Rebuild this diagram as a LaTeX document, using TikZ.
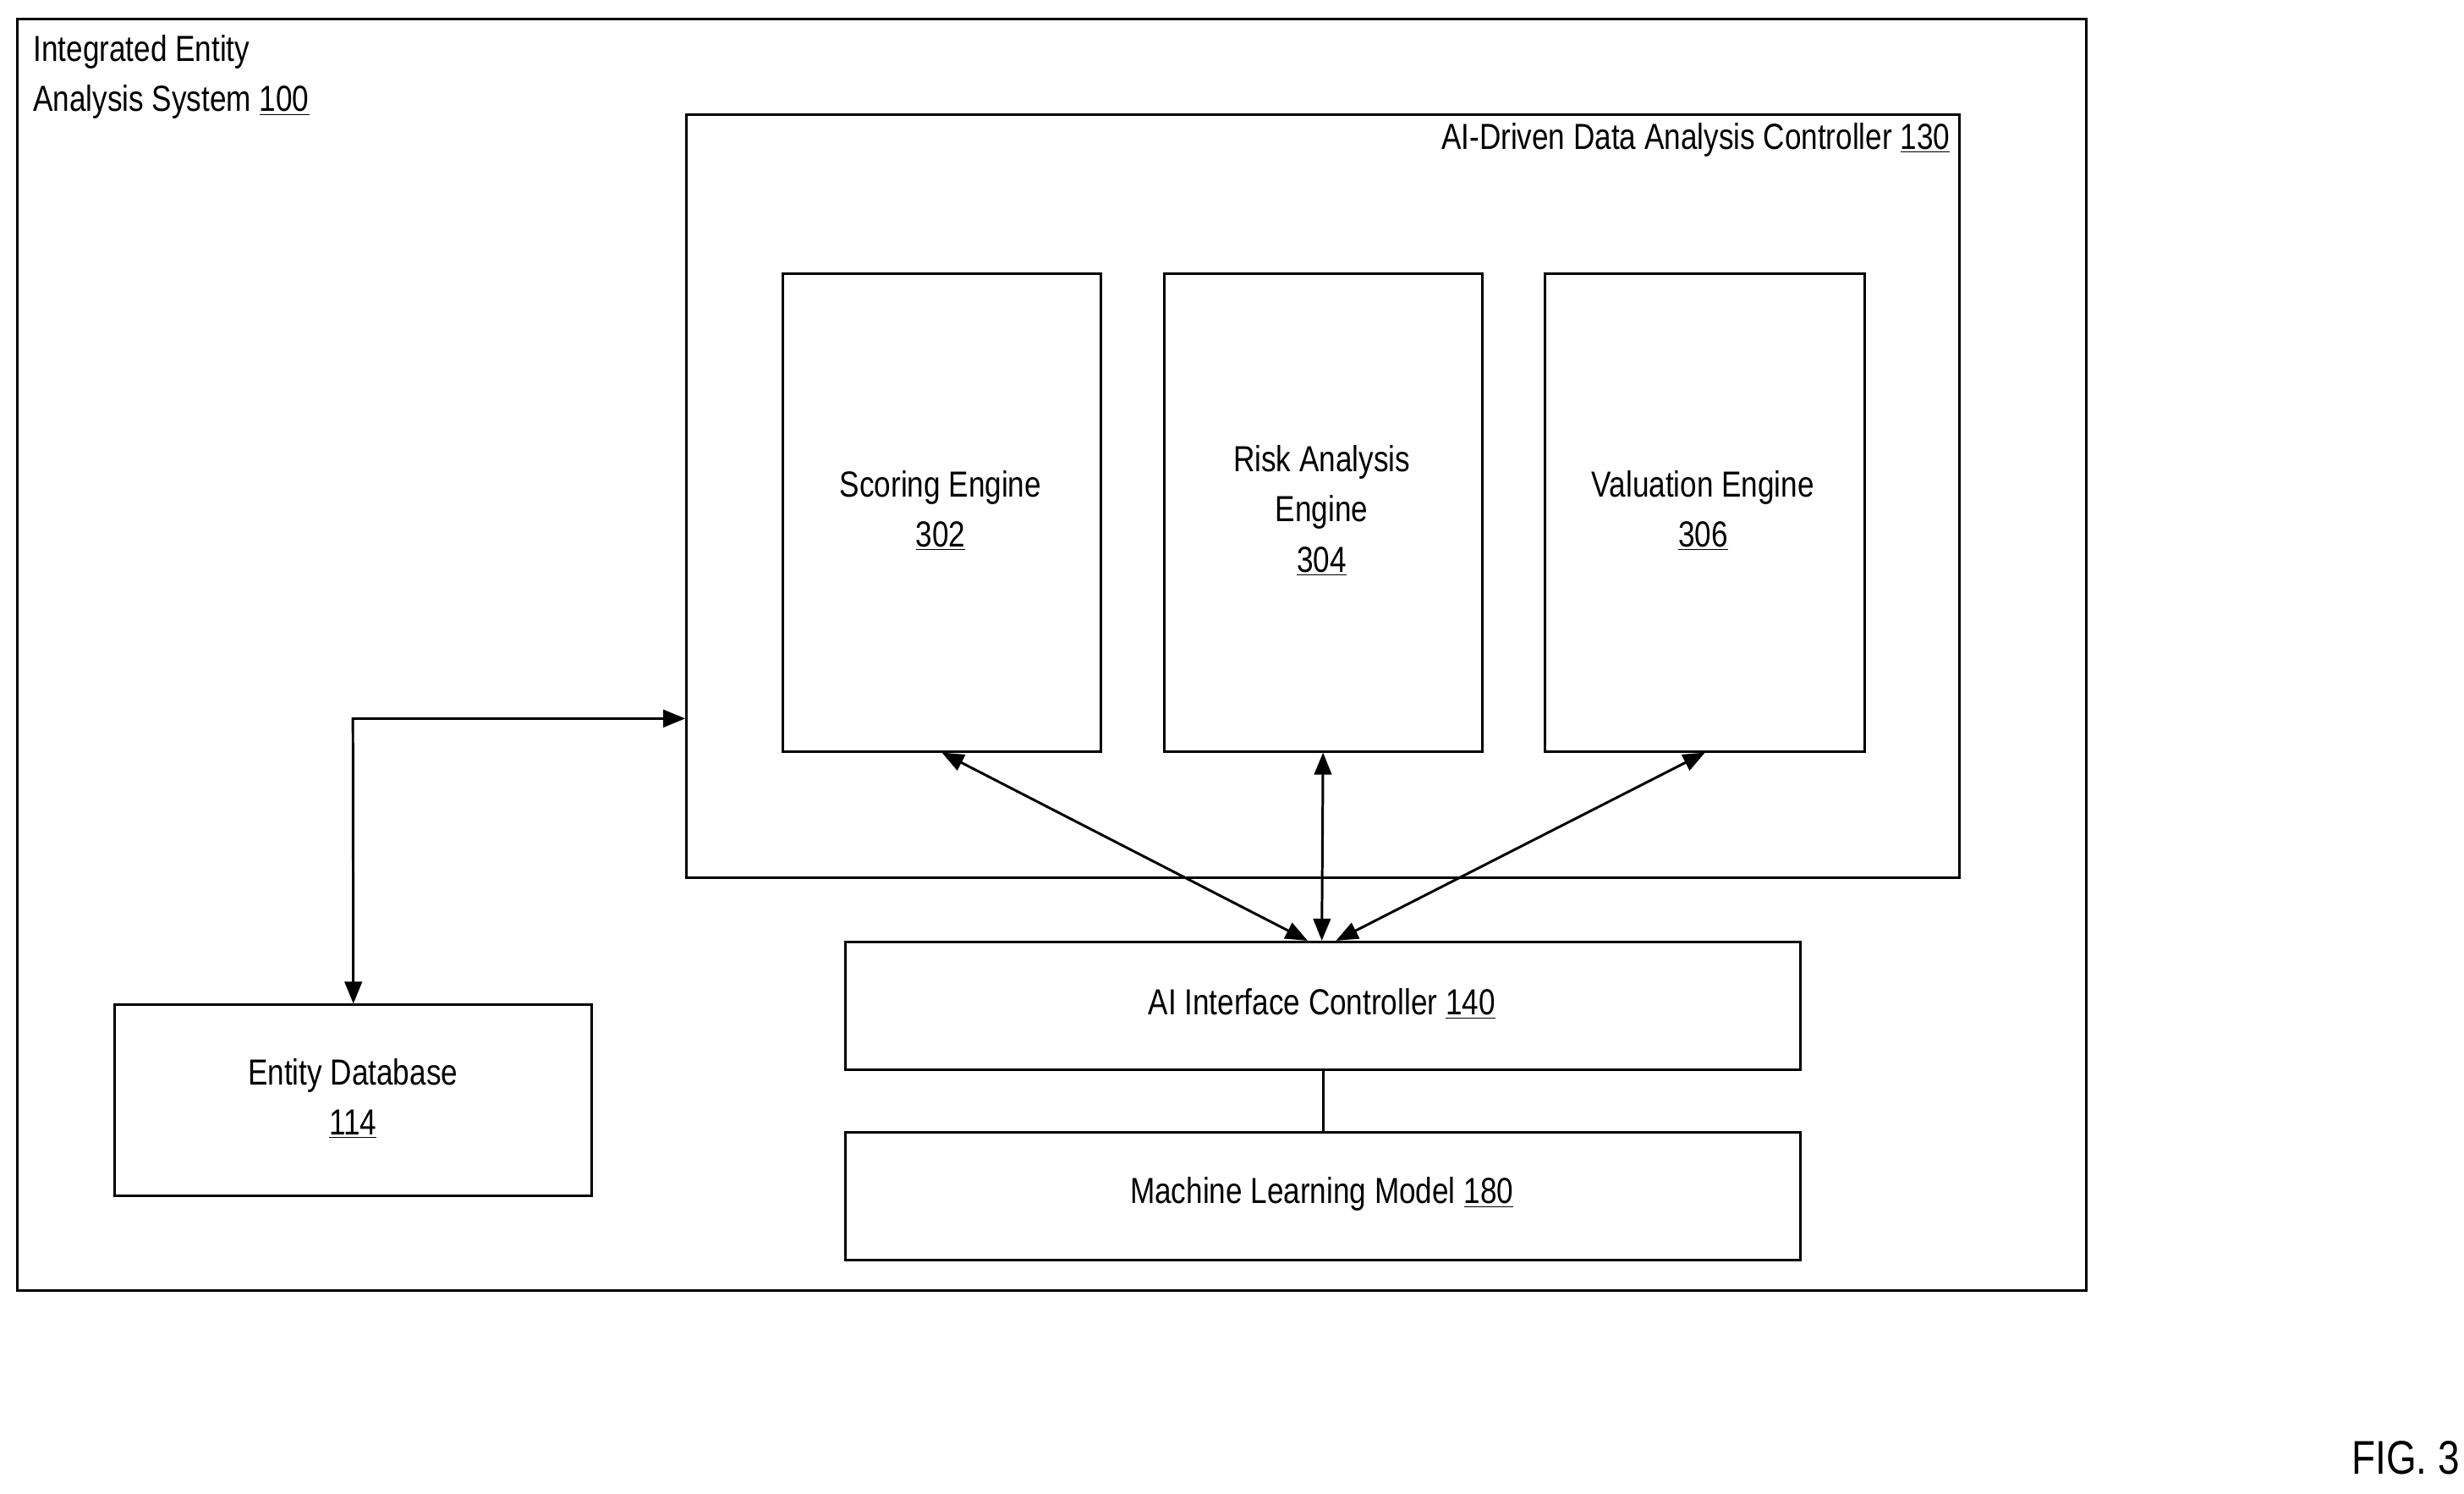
\documentclass[tikz,border=0pt]{standalone}
\usepackage{fontspec}
\setmainfont{Liberation Sans}[FakeStretch=0.82]
\usetikzlibrary{arrows.meta}
\begin{document}
\begin{tikzpicture}[x=1pt,y=-1pt,
  box/.style={draw,line width=1.6pt},
  lbl/.style={font=\fontsize{23}{32}\selectfont,align=center},
  conn/.style={line width=1.6pt,{Triangle[length=14pt,width=11pt]}-{Triangle[length=14pt,width=11pt]}}]
\useasboundingbox[fill=white] (0,0) rectangle (1564,948);
\draw[box] (11,12) rectangle (1324,819);
\node[lbl,anchor=north west,align=left,inner sep=0] (t100) at (21,22) {Integrated Entity\\Analysis System \underline{100}};
\node[box,minimum width=808,minimum height=484,anchor=north west,inner sep=0] (c130) at (435,72) {};
\node[lbl,anchor=north east,inner sep=0] (t130) at (1238,78) {AI-Driven Data Analysis Controller \underline{130}};
\node[box,lbl,minimum width=202,minimum height=303,anchor=north west,inner sep=0] (s302) at (496,173) {};
\node[lbl] at (597,324) {Scoring Engine\\\underline{302}};
\node[box,lbl,minimum width=202,minimum height=303,anchor=north west,inner sep=0] (r304) at (738,173) {};
\node[lbl] at (839,324) {Risk Analysis\\Engine\\\underline{304}};
\node[box,lbl,minimum width=203,minimum height=303,anchor=north west,inner sep=0] (v306) at (980,173) {};
\node[lbl] at (1081,324) {Valuation Engine\\\underline{306}};
\node[box,lbl,minimum width=606,minimum height=81,anchor=north west,inner sep=0] (ai140) at (536,597) {};
\node[lbl] at (839,637) {AI Interface Controller \underline{140}};
\node[box,lbl,minimum width=606,minimum height=81,anchor=north west,inner sep=0] (ml180) at (536,718) {};
\node[lbl] at (839,758) {Machine Learning Model \underline{180}};
\node[box,lbl,minimum width=303,minimum height=121,anchor=north west,inner sep=0] (db114) at (72,637) {};
\node[lbl] at (224,697) {Entity Database\\\underline{114}};
\node[font=\fontsize{30}{36}\selectfont,anchor=center] (fig) at (1527,925) {FIG. 3};
\draw[conn] (c130.west |- 0,456) -- (224,456) -- (db114.north);
\draw[conn] (s302.south) -- (830,597);
\draw[conn] (r304.south) -- (839,597);
\draw[conn] (v306.south) -- (848,597);
\draw[line width=1.6pt] (ai140.south) -- (ml180.north);
\end{tikzpicture}
\end{document}
